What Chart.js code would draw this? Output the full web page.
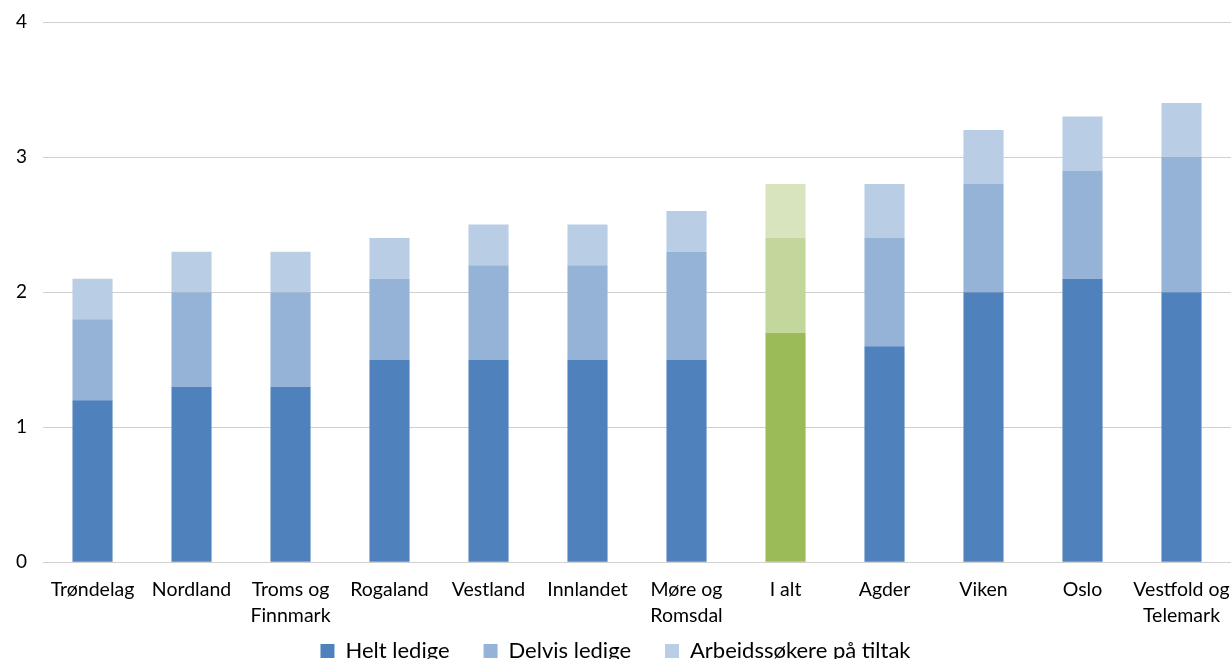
<!DOCTYPE html>
<html lang="no">
<head>
    <meta charset="UTF-8">
    <title>Arbeidssøkere etter fylke</title>
    <script src="https://cdn.jsdelivr.net/npm/chart.js"></script>
    <style>
        html, body {
            margin: 0;
            padding: 0;
            background: white;
            overflow: hidden;
        }
        #wrap {
            width: 1231px;
            height: 683px;
        }
    </style>
</head>
<body>
    <div id="wrap"><canvas id="chart"></canvas></div>

    <script>
        const regions = [
            "Trøndelag", "Nordland", ["Troms og", "Finnmark"], "Rogaland", "Vestland",
            "Innlandet", ["Møre og", "Romsdal"], "I alt", "Agder", "Viken", "Oslo",
            ["Vestfold og", "Telemark"]
        ];
        const heltLedige = [1.2, 1.3, 1.3, 1.5, 1.5, 1.5, 1.5, 1.7, 1.6, 2.0, 2.1, 2.0];
        const delvisLedige = [0.6, 0.7, 0.7, 0.6, 0.7, 0.7, 0.8, 0.7, 0.8, 0.8, 0.8, 1.0];
        const paaTiltak = [0.3, 0.3, 0.3, 0.3, 0.3, 0.3, 0.3, 0.4, 0.4, 0.4, 0.4, 0.4];
        const yTicks = [0, 1, 2, 3, 4];

        const totalIndex = 7;
        const blue = ['#4f81bd', '#95b3d7', '#b9cde5'];
        const green = ['#9bbb59', '#c3d69b', '#d7e4bd'];

        function colorsFor(level) {
            return regions.map((r, i) => i === totalIndex ? green[level] : blue[level]);
        }

        const font = "Lato, 'Open Sans', sans-serif";

        // pull the legend up closer to the axis labels, but keep wide gaps between items
        const LEGEND_TRIM = 26;
        const LEGEND_SHIFT = 37;
        const legendTrim = {
            id: 'legendTrim',
            beforeLayout(chart) {
                const lg = chart.legend;
                if (lg && !lg._trimmed) {
                    const fit = lg.fit.bind(lg);
                    lg.fit = () => { fit(); lg.height -= LEGEND_TRIM; };
                    lg._trimmed = true;
                }
            },
            afterLayout(chart) {
                chart.legend.top -= LEGEND_SHIFT;
            }
        };

        new Chart(document.getElementById('chart').getContext('2d'), {
            type: 'bar',
            data: {
                labels: regions,
                datasets: [
                    { label: 'Helt ledige', data: heltLedige, backgroundColor: colorsFor(0) },
                    { label: 'Delvis ledige', data: delvisLedige, backgroundColor: colorsFor(1) },
                    { label: 'Arbeidssøkere på tiltak', data: paaTiltak, backgroundColor: colorsFor(2) }
                ]
            },
            options: {
                responsive: true,
                maintainAspectRatio: false,
                animation: false,
                categoryPercentage: 1,
                barPercentage: 0.405,
                layout: { padding: { top: 22, right: 0, left: 0, bottom: 0 } },
                scales: {
                    x: {
                        stacked: true,
                        afterFit: axis => { axis.paddingLeft = 0; axis.paddingRight = 0; },
                        grid: { display: false, drawTicks: false },
                        border: { color: '#d0d0d0' },
                        ticks: { color: '#000', font: { family: font, size: 19.5, lineHeight: 1.3 }, padding: 15, maxRotation: 0, autoSkip: false }
                    },
                    y: {
                        stacked: true,
                        min: 0,
                        max: 4,
                        afterBuildTicks: axis => { axis.ticks = yTicks.map(v => ({ value: v })); },
                        afterFit: axis => { axis.paddingTop = 0; },
                        grid: { color: '#d0d0d0', drawTicks: false },
                        border: { display: false },
                        ticks: { color: '#000', font: { family: font, size: 19 }, padding: 16 }
                    }
                },
                plugins: {
                    legend: {
                        position: 'bottom',
                        labels: {
                            color: '#000',
                            font: { family: font, size: 22 },
                            boxWidth: 14,
                            boxHeight: 14,
                            padding: 34,
                            generateLabels: chart => chart.data.datasets.map((ds, i) => ({
                                text: ds.label,
                                fillStyle: blue[i],
                                strokeStyle: blue[i],
                                lineWidth: 0,
                                datasetIndex: i
                            }))
                        }
                    },
                    tooltip: { enabled: false }
                }
            },
            plugins: [legendTrim]
        });
    </script>
</body>
</html>
